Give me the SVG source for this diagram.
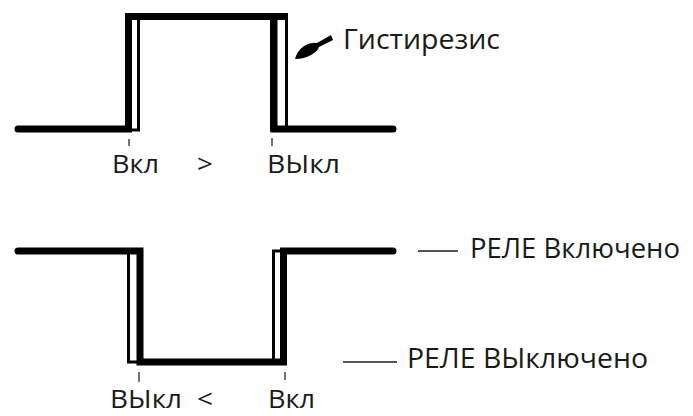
<svg xmlns="http://www.w3.org/2000/svg" width="693" height="416" viewBox="0 0 693 416">
<style>
.w{fill:none;stroke:#000;stroke-width:7;stroke-linejoin:miter}
.r{fill:none;stroke:#000;stroke-width:3}
.t{fill:none;stroke:#444;stroke-width:1.5}
.d{fill:none;stroke:#555;stroke-width:2}
text{font-family:"Open Sans","Noto Sans",sans-serif;font-size:26px;fill:#1a1a1a}
</style>
<rect width="693" height="416" fill="#fff"/>
<g id="top-wave">
<path class="w" stroke-linecap="round" d="M18,129 H128.5 V16.5 H274 V129 H393"/>
<path class="w" d="M270,16.5 H288"/>
<rect class="r" x="126.5" y="15" width="12" height="115"/>
<rect class="r" x="271.5" y="15" width="15" height="115"/>
<line class="t" x1="129" y1="139" x2="129" y2="146"/>
<line class="t" x1="272" y1="138" x2="272" y2="146"/>
</g>
<g id="bottom-wave">
<path class="w" stroke-linecap="round" d="M18,251 H140 V362 H283.5 V251 H393"/>
<rect class="r" x="128.5" y="251" width="11.5" height="111"/>
<rect class="r" x="273.5" y="251" width="10" height="111"/>
<line class="t" x1="139" y1="372" x2="139" y2="382"/>
<line class="t" x1="285" y1="372" x2="285" y2="380"/>
</g>
<g id="hysteresis">
<path d="M331,35 L317,43 Q311,42 304,46 Q297,51 295,59 Q304,59 311,55 Q318,51 319,47 L333,40 Z" fill="#000"/>
<text x="343" y="49" textLength="157" lengthAdjust="spacingAndGlyphs" style="font-size:28px">Гистирезис</text>
</g>
<g id="labels-top">
<text x="112" y="173" textLength="47" lengthAdjust="spacingAndGlyphs">Вкл</text>
<text x="197" y="173" textLength="16" lengthAdjust="spacingAndGlyphs">&gt;</text>
<text x="267" y="173" textLength="73" lengthAdjust="spacingAndGlyphs">ВЫкл</text>
</g>
<g id="labels-bottom">
<text x="110" y="408" textLength="72" lengthAdjust="spacingAndGlyphs">ВЫкл</text>
<text x="197" y="408" textLength="16" lengthAdjust="spacingAndGlyphs">&lt;</text>
<text x="268" y="408" textLength="47" lengthAdjust="spacingAndGlyphs">Вкл</text>
</g>
<g id="legend-on">
<line class="d" x1="418" y1="251" x2="458" y2="251"/>
<text x="470" y="258" textLength="210" lengthAdjust="spacingAndGlyphs" style="font-size:27px">РЕЛЕ Включено</text>
</g>
<g id="legend-off">
<line class="d" x1="343" y1="362" x2="397" y2="362"/>
<text x="407" y="368" textLength="241" lengthAdjust="spacingAndGlyphs" style="font-size:27px">РЕЛЕ ВЫключено</text>
</g>
</svg>
